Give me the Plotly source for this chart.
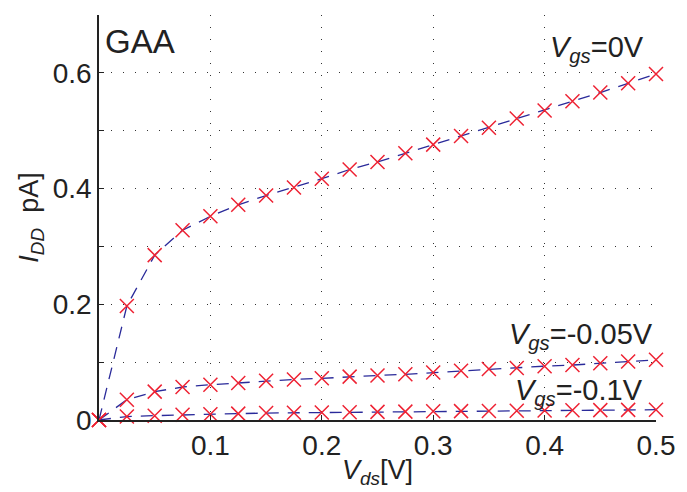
import plotly.graph_objects as go

vds = [0, 0.025, 0.05, 0.075, 0.1, 0.125, 0.15, 0.175, 0.2, 0.225, 0.25,
       0.275, 0.3, 0.325, 0.35, 0.375, 0.4, 0.425, 0.45, 0.475, 0.5]
id_vgs0 = [0, 0.197, 0.285, 0.328, 0.352, 0.372, 0.388, 0.402, 0.417, 0.433, 0.446,
           0.461, 0.476, 0.491, 0.505, 0.521, 0.535, 0.551, 0.566, 0.582, 0.598]
id_vgs005 = [0, 0.035, 0.049, 0.057, 0.061, 0.064, 0.068, 0.070, 0.072, 0.075, 0.077,
             0.079, 0.082, 0.085, 0.088, 0.090, 0.093, 0.095, 0.098, 0.101, 0.104]
id_vgs01 = [0, 0.006, 0.0075, 0.009, 0.010, 0.011, 0.012, 0.0125, 0.013, 0.0135, 0.014,
            0.0145, 0.015, 0.0153, 0.0157, 0.016, 0.0164, 0.0168, 0.0171, 0.0175, 0.0178]

x_tickvals = [0.1, 0.2, 0.3, 0.4, 0.5]
x_ticktext = ["0.1", "0.2", "0.3", "0.4", "0.5"]
y_tickvals = [0, 0.1, 0.2, 0.3, 0.4, 0.5, 0.6, 0.7]
y_ticktext = ["0", "", "0.2", "", "0.4", "", "0.6", ""]

FONT = "Liberation Sans, Arial, sans-serif"
TXT = "#222222"

fig = go.Figure()
for ys in (id_vgs0, id_vgs005, id_vgs01):
    fig.add_trace(go.Scatter(
        x=vds, y=ys, mode="lines",
        line=dict(color="#2a2a9a", width=1.3, dash="12px,9px"),
        showlegend=False, hoverinfo="skip"))
    fig.add_trace(go.Scatter(
        x=vds, y=ys, mode="markers", cliponaxis=False,
        marker=dict(symbol="x-thin", size=14, line=dict(color="#ee2233", width=1.5)),
        showlegend=False, hoverinfo="skip"))

grid = dict(showgrid=True, gridcolor="#333333", gridwidth=1, griddash="1px,11px")

fig.update_xaxes(range=[0, 0.5], tickvals=x_tickvals, ticktext=x_ticktext,
                 ticks="inside", ticklen=5, tickcolor="#222", showline=True,
                 linecolor="#222", linewidth=1.5, zeroline=False,
                 tickfont=dict(family=FONT, size=28, color=TXT),
                 title=dict(text="<i>V</i><sub><i>ds</i></sub>[V]",
                            font=dict(family=FONT, size=27, color=TXT), standoff=0),
                 **grid)
fig.update_yaxes(range=[0, 0.7], tickvals=y_tickvals, ticktext=y_ticktext,
                 ticks="inside", ticklen=5, tickcolor="#222", showline=True,
                 linecolor="#222", linewidth=1.5, zeroline=False,
                 tickfont=dict(family=FONT, size=28, color=TXT),
                 title=dict(text="<i>I</i><sub><i>DD</i></sub>  pA]",
                            font=dict(family=FONT, size=27, color=TXT), standoff=6),
                 **grid)

ann_font = dict(family=FONT, size=29, color=TXT)
fig.add_annotation(x=0.004, y=0.69, xref="x", yref="y", text="GAA", showarrow=False,
                   xanchor="left", yanchor="top", font=dict(family=FONT, size=33, color=TXT))
fig.add_annotation(x=0.491, y=0.641, xref="x", yref="y",
                   text="<i>V</i><sub><i>gs</i></sub>=0V", showarrow=False,
                   xanchor="right", yanchor="middle", font=ann_font)
fig.add_annotation(x=0.499, y=0.145, xref="x", yref="y",
                   text="<i>V</i><sub><i>gs</i></sub>=-0.05V", showarrow=False,
                   xanchor="right", yanchor="middle", font=ann_font)
fig.add_annotation(x=0.49, y=0.048, xref="x", yref="y",
                   text="<i>V</i><sub><i>gs</i></sub>=-0.1V", showarrow=False,
                   xanchor="right", yanchor="middle", font=ann_font)

fig.update_layout(width=687, height=492, margin=dict(l=99, r=26, t=15, b=71),
                  paper_bgcolor="white", plot_bgcolor="white")
fig.write_html("out.html")
